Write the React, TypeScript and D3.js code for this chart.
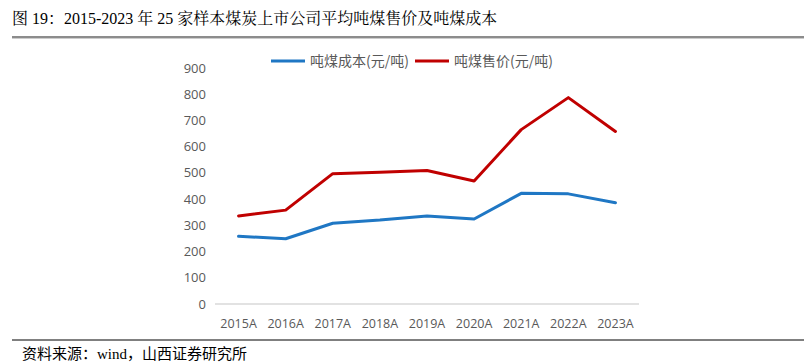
import React from "react";
import * as d3 from "d3";

const categories = ["2015A", "2016A", "2017A", "2018A", "2019A", "2020A", "2021A", "2022A", "2023A"];
const costValues = [258, 249, 308, 320, 336, 324, 422, 420, 386];
const priceValues = [336, 358, 497, 502, 509, 469, 665, 787, 658];
const yTicks = [0, 100, 200, 300, 400, 500, 600, 700, 800, 900];
const seriesNames = ["吨煤成本(元/吨)", "吨煤售价(元/吨)"];
const seriesColors = ["#1f77c4", "#c00000"];
const titleText = "图 19：2015-2023 年 25 家样本煤炭上市公司平均吨煤售价及吨煤成本";
const sourceText = "资料来源：wind，山西证券研究所";

export default function App() {
  const W = 804, H = 363;
  const x = d3.scaleBand<string>().domain(categories).range([215, 639]);
  const y = d3.scaleLinear().domain([0, 900]).range([304, 68]);
  const line = d3.line<number>()
    .x((_, i) => (x(categories[i]) as number) + x.bandwidth() / 2)
    .y((d) => y(d));
  const series = [costValues, priceValues];
  const axisFont = "'Open Sans', 'Noto Sans', sans-serif";
  const cjk = "'Noto Sans CJK SC', sans-serif";
  const legendX = [271, 415];
  return (
    <svg width={W} height={H} style={{ position: "absolute", left: 0, top: 0, background: "#fff" }}>
      <text x={12} y={24} fontSize={16} fill="#000" fontFamily={"'Liberation Serif', 'Noto Serif CJK SC', 'Noto Sans CJK SC', serif"}>{titleText}</text>
      <line x1={12} x2={804} y1={37} y2={37} stroke="#666" strokeWidth={1.5} />
      <line x1={12} x2={804} y1={38.5} y2={38.5} stroke="#ccc" strokeWidth={1} />
      {yTicks.map((t) => (
        <text key={t} x={206} y={y(t)} dy="0.35em" textAnchor="end" fontSize={13} fill="#595959" fontFamily={axisFont}>{t}</text>
      ))}
      <line x1={215} x2={639} y1={y(0)} y2={y(0)} stroke="#d9d9d9" strokeWidth={1.5} />
      {categories.map((c) => (
        <text key={c} x={(x(c) as number) + x.bandwidth() / 2} y={324} dy="0.35em" textAnchor="middle" fontSize={12.5} fill="#595959" fontFamily={axisFont}>{c}</text>
      ))}
      {series.map((s, i) => (
        <path key={i} d={line(s) as string} fill="none" stroke={seriesColors[i]} strokeWidth={3} strokeLinejoin="round" strokeLinecap="round" />
      ))}
      {seriesNames.map((n, i) => (
        <g key={n}>
          <line x1={legendX[i]} x2={legendX[i] + 34} y1={61} y2={61} stroke={seriesColors[i]} strokeWidth={3} />
          <text x={legendX[i] + 39} y={61} dy="0.35em" fontSize={14} fill="#595959" fontFamily={cjk}>{n}</text>
        </g>
      ))}
      <line x1={12} x2={804} y1={340} y2={340} stroke="#000" strokeWidth={1} />
      <text x={22} y={359} fontSize={15} fill="#000" fontFamily={"'Liberation Serif', 'Noto Sans CJK SC', serif"}>{sourceText}</text>
    </svg>
  );
}
